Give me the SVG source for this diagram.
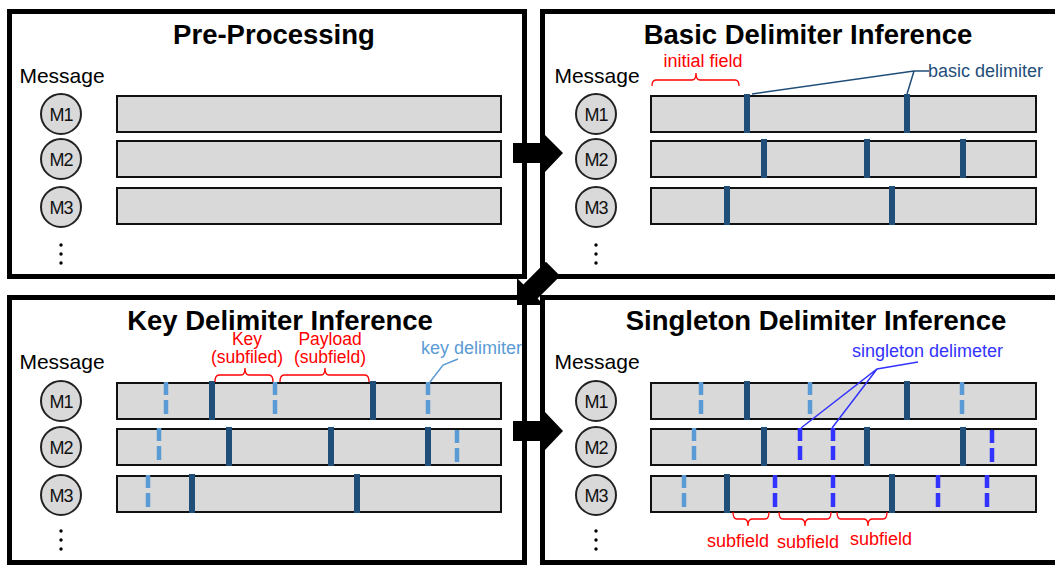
<svg xmlns="http://www.w3.org/2000/svg" width="1055" height="565" viewBox="0 0 1055 565">
<defs>
<style>
.panel{fill:#fff;stroke:#000;stroke-width:5}
.title{font-family:"Liberation Sans",Arial,sans-serif;font-weight:bold;font-size:27.5px;text-anchor:middle;fill:#000}
.msg{font-family:"Liberation Sans",Arial,sans-serif;font-size:21px;text-anchor:middle;fill:#000}
.mc{fill:#d9d9d9;stroke:#222;stroke-width:2}
.mt{font-family:"Liberation Sans",Arial,sans-serif;font-size:18px;text-anchor:middle;fill:#111;letter-spacing:-1px}
.bar{fill:#d9d9d9;stroke:#111;stroke-width:2}
.bd{stroke:#1f4e79;stroke-width:6}
.kd{stroke:#5b9bd5;stroke-width:4.5;stroke-dasharray:13 5 14 5}
.sd{stroke:#3333ff;stroke-width:4.5;stroke-dasharray:13 5 14 5}
.dot{fill:#000}
.red{font-family:"Liberation Sans",Arial,sans-serif;font-size:18px;fill:#ff0000}
.red2{font-family:"Liberation Sans",Arial,sans-serif;font-size:17.5px;fill:#ff0000;text-anchor:middle}
.brace{fill:none;stroke:#ff0000;stroke-width:1.3}
.lbl{font-family:"Liberation Sans",Arial,sans-serif;font-size:18px}
.arrow{fill:#000}
</style>
</defs>

<g id="panel-preprocessing">
<rect class="panel" x="9.5" y="11.5" width="515" height="265"/>
<text class="title" x="274" y="44">Pre-Processing</text>
<text class="msg" x="62" y="83">Message</text>
<circle class="mc" cx="61" cy="114" r="20"/><text class="mt" x="61" y="120.5">M1</text>
<circle class="mc" cx="61" cy="159" r="20"/><text class="mt" x="61" y="165.5">M2</text>
<circle class="mc" cx="61" cy="207" r="20"/><text class="mt" x="61" y="213.5">M3</text>
<rect class="bar" x="117" y="96" width="384" height="36"/>
<rect class="bar" x="117" y="141" width="384" height="36"/>
<rect class="bar" x="117" y="188" width="384" height="36"/>
<circle class="dot" cx="61" cy="245" r="1.7"/><circle class="dot" cx="61" cy="254" r="1.7"/><circle class="dot" cx="61" cy="263" r="1.7"/>
</g>

<g id="panel-basic">
<rect class="panel" x="542.5" y="11.5" width="530" height="265"/>
<text class="title" x="808" y="44">Basic Delimiter Inference</text>
<text class="msg" x="597" y="83">Message</text>
<circle class="mc" cx="596" cy="114" r="20"/><text class="mt" x="596" y="120.5">M1</text>
<circle class="mc" cx="596" cy="159" r="20"/><text class="mt" x="596" y="165.5">M2</text>
<circle class="mc" cx="596" cy="207" r="20"/><text class="mt" x="596" y="213.5">M3</text>
<rect class="bar" x="651" y="96" width="385" height="36"/>
<rect class="bar" x="651" y="141" width="385" height="36"/>
<rect class="bar" x="651" y="188" width="385" height="36"/>
<line class="bd" x1="747" y1="94" x2="747" y2="133"/>
<line class="bd" x1="907" y1="94" x2="907" y2="133"/>
<line class="bd" x1="764" y1="139" x2="764" y2="178"/>
<line class="bd" x1="867" y1="139" x2="867" y2="178"/>
<line class="bd" x1="963" y1="139" x2="963" y2="178"/>
<line class="bd" x1="727" y1="186" x2="727" y2="225"/>
<line class="bd" x1="892" y1="186" x2="892" y2="225"/>
<path class="brace" d="M652,86 Q652,80 656,80 L692,80 Q696,80 696,73 Q696,80 700,80 L735,80 Q739,80 739,86"/>
<text class="red" x="703" y="67" text-anchor="middle">initial field</text>
<path d="M929,71 L914,71 L752,94 M914,71 L907,94" fill="none" stroke="#1f4e79" stroke-width="1.5"/>
<text class="lbl" x="928" y="77" fill="#1f4e79">basic delimiter</text>
<circle class="dot" cx="596" cy="245" r="1.7"/><circle class="dot" cx="596" cy="254" r="1.7"/><circle class="dot" cx="596" cy="263" r="1.7"/>
</g>

<g id="panel-key">
<rect class="panel" x="9.5" y="297.5" width="515" height="265"/>
<text class="title" x="280" y="330">Key Delimiter Inference</text>
<text class="msg" x="62" y="369">Message</text>
<circle class="mc" cx="61" cy="401" r="20"/><text class="mt" x="61" y="407.5">M1</text>
<circle class="mc" cx="61" cy="447" r="20"/><text class="mt" x="61" y="453.5">M2</text>
<circle class="mc" cx="61" cy="495" r="20"/><text class="mt" x="61" y="501.5">M3</text>
<rect class="bar" x="117" y="383" width="384" height="36"/>
<rect class="bar" x="117" y="429" width="384" height="36"/>
<rect class="bar" x="117" y="476" width="384" height="36"/>
<line class="bd" x1="212" y1="381" x2="212" y2="420"/>
<line class="bd" x1="373" y1="381" x2="373" y2="420"/>
<line class="bd" x1="229" y1="427" x2="229" y2="466"/>
<line class="bd" x1="331" y1="427" x2="331" y2="466"/>
<line class="bd" x1="428" y1="427" x2="428" y2="466"/>
<line class="bd" x1="192" y1="474" x2="192" y2="513"/>
<line class="bd" x1="357" y1="474" x2="357" y2="513"/>
<line class="kd" x1="166" y1="382" x2="166" y2="419"/>
<line class="kd" x1="275" y1="382" x2="275" y2="419"/>
<line class="kd" x1="428" y1="382" x2="428" y2="419"/>
<line class="kd" x1="159" y1="428" x2="159" y2="465"/>
<line class="kd" x1="457" y1="430" x2="457" y2="467"/>
<line class="kd" x1="148" y1="475" x2="148" y2="512"/>
<path class="brace" d="M215,382 Q215,375 219,375 L241,375 Q245,375 245,368 Q245,375 249,375 L269,375 Q273,375 273,382"/>
<path class="brace" d="M280,382 Q280,375 284,375 L321,375 Q325,375 325,368 Q325,375 329,375 L365,375 Q369,375 369,382"/>
<text class="red2" x="247" y="345">Key</text>
<text class="red2" x="247" y="363">(subfiled)</text>
<text class="red2" x="330" y="345">Payload</text>
<text class="red2" x="330" y="363">(subfield)</text>
<path d="M458,359 L443,365 L430,382" fill="none" stroke="#5b9bd5" stroke-width="1.5"/>
<text class="lbl" x="421" y="354" fill="#5b9bd5">key delimiter</text>
<circle class="dot" cx="61" cy="531" r="1.7"/><circle class="dot" cx="61" cy="540" r="1.7"/><circle class="dot" cx="61" cy="549" r="1.7"/>
</g>

<g id="panel-singleton">
<rect class="panel" x="542.5" y="297.5" width="530" height="265"/>
<text class="title" x="816" y="330">Singleton Delimiter Inference</text>
<text class="msg" x="597" y="369">Message</text>
<circle class="mc" cx="596" cy="401" r="20"/><text class="mt" x="596" y="407.5">M1</text>
<circle class="mc" cx="596" cy="447" r="20"/><text class="mt" x="596" y="453.5">M2</text>
<circle class="mc" cx="596" cy="495" r="20"/><text class="mt" x="596" y="501.5">M3</text>
<rect class="bar" x="651" y="383" width="385" height="36"/>
<rect class="bar" x="651" y="429" width="385" height="36"/>
<rect class="bar" x="651" y="476" width="385" height="36"/>
<line class="bd" x1="747" y1="381" x2="747" y2="420"/>
<line class="bd" x1="907" y1="381" x2="907" y2="420"/>
<line class="bd" x1="764" y1="427" x2="764" y2="466"/>
<line class="bd" x1="867" y1="427" x2="867" y2="466"/>
<line class="bd" x1="963" y1="427" x2="963" y2="466"/>
<line class="bd" x1="727" y1="474" x2="727" y2="513"/>
<line class="bd" x1="892" y1="474" x2="892" y2="513"/>
<line class="kd" x1="701" y1="382" x2="701" y2="419"/>
<line class="kd" x1="810" y1="382" x2="810" y2="419"/>
<line class="kd" x1="962" y1="382" x2="962" y2="419"/>
<line class="kd" x1="694" y1="428" x2="694" y2="465"/>
<line class="kd" x1="684" y1="475" x2="684" y2="512"/>
<line class="sd" x1="800" y1="428" x2="800" y2="465"/>
<line class="sd" x1="833" y1="428" x2="833" y2="465"/>
<line class="sd" x1="992" y1="430" x2="992" y2="467"/>
<line class="sd" x1="775" y1="475" x2="775" y2="512"/>
<line class="sd" x1="833" y1="475" x2="833" y2="512"/>
<line class="sd" x1="938" y1="475" x2="938" y2="512"/>
<line class="sd" x1="987" y1="475" x2="987" y2="512"/>
<path d="M918,362 L877,369 L801,428 M877,369 L832,428" fill="none" stroke="#3333ff" stroke-width="1.5"/>
<text class="lbl" x="852" y="357" fill="#3333ff">singleton delimeter</text>
<path class="brace" d="M733,512 Q733,519 737,519 L744,519 Q748,519 748,526 Q748,519 752,519 L765,519 Q769,519 769,512"/>
<path class="brace" d="M779,512 Q779,519 783,519 L801,519 Q805,519 805,526 Q805,519 809,519 L827,519 Q831,519 831,512"/>
<path class="brace" d="M837,512 Q837,519 841,519 L864,519 Q868,519 868,526 Q868,519 872,519 L883,519 Q887,519 887,512"/>
<text class="red" x="738" y="547" text-anchor="middle">subfield</text>
<text class="red" x="808" y="548" text-anchor="middle">subfield</text>
<text class="red" x="881" y="545" text-anchor="middle">subfield</text>
<circle class="dot" cx="596" cy="531" r="1.7"/><circle class="dot" cx="596" cy="540" r="1.7"/><circle class="dot" cx="596" cy="549" r="1.7"/>
</g>

<g id="connectors">
<polygon class="arrow" points="513,143 545,143 545,135 563,153 545,172 545,163 513,163"/>
<polygon class="arrow" points="517,305 517,278 523.4,284.4 546,261.8 560.2,276 537.6,298.6 544,305"/>
<polygon class="arrow" points="513,421 545,421 545,412 563,431 545,450 545,441 513,441"/>
</g>
</svg>
